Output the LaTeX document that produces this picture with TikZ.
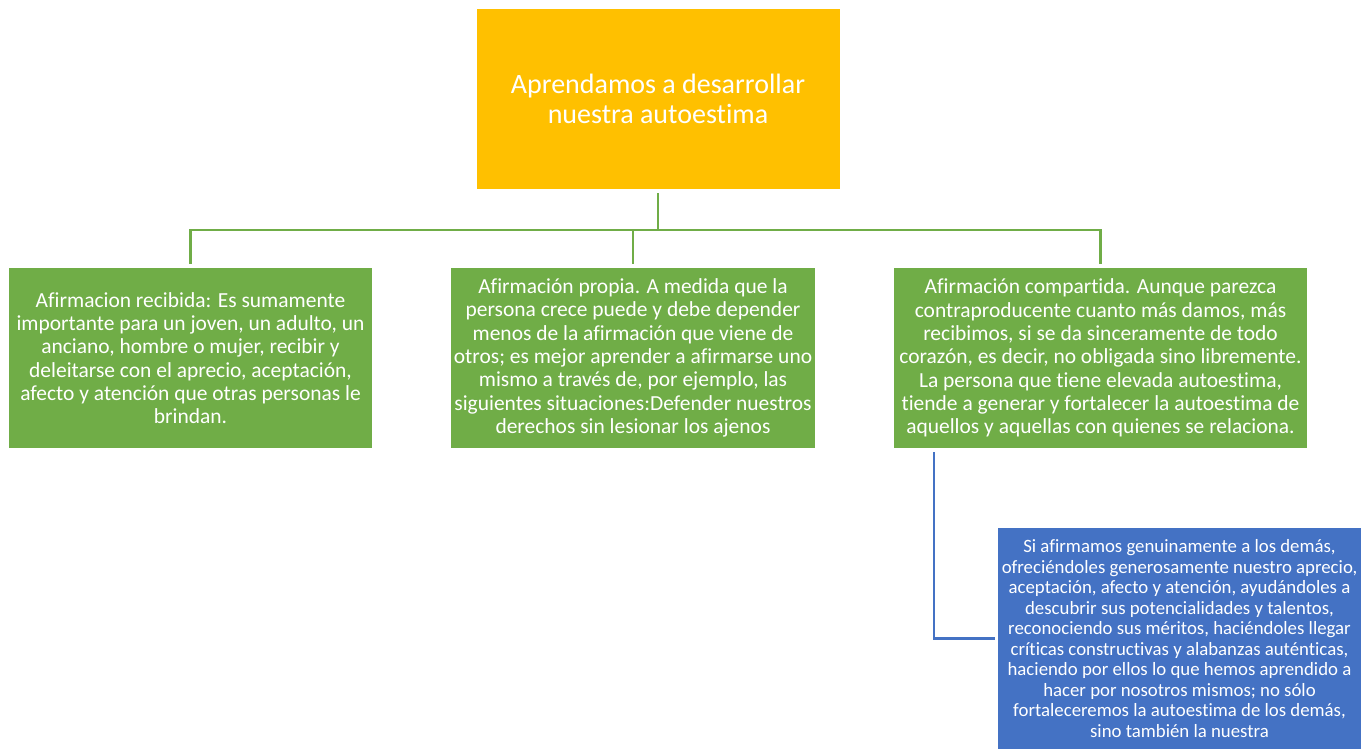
\documentclass[tikz,border=0pt]{standalone}
\usepackage{fontspec}
\setmainfont{Carlito}[Ligatures=CommonOff]
\usetikzlibrary{positioning}
\definecolor{ogold}{HTML}{FFC000}
\definecolor{ogreen}{HTML}{70AD47}
\definecolor{oblue}{HTML}{4472C4}
\tikzset{
  blk/.style={rectangle,text=white,align=center,inner sep=2pt,minimum width=272.25pt,minimum height=135pt},
  titleblk/.style={blk,fill=ogold,font=\fontsize{21}{22.5}\selectfont},
  grnblk/.style={blk,fill=ogreen,font=\fontsize{16.1}{17.5}\selectfont},
  blublk/.style={blk,fill=oblue,minimum height=165.75pt,font=\fontsize{14.1}{15.4}\selectfont},
  conn/.style={draw=ogreen,line width=1.8pt},
  bconn/.style={draw=oblue,line width=1.8pt}
}

\begin{document}
\begin{tikzpicture}[x=0.75pt,y=-0.75pt]
  \useasboundingbox[fill=white] (0,0) rectangle (1364,749);

  \node[titleblk] (title) at (658,99) {Aprendamos a desarrollar\\nuestra autoestima};

  \node[grnblk] (recib) at (190.5,358) {Afirmacion recibida: Es sumamente\\importante para un joven, un adulto, un\\anciano, hombre o mujer, recibir y\\deleitarse con el aprecio, aceptación,\\afecto y atención que otras personas le\\brindan.};
  \node[grnblk, minimum width=271.5pt] (propia) at (633,358) {Afirmación propia. A medida que la\\persona crece puede y debe depender\\menos de la afirmación que viene de\\otros; es mejor aprender a afirmarse uno\\mismo a través de, por ejemplo, las\\siguientes situaciones:Defender nuestros\\derechos sin lesionar los ajenos};
  \node[grnblk, minimum width=309.75pt] (compart) at (1100.5,358) {Afirmación compartida. Aunque parezca\\contraproducente cuanto más damos, más\\recibimos, si se da sinceramente de todo\\corazón, es decir, no obligada sino libremente.\\La persona que tiene elevada autoestima,\\tiende a generar y fortalecer la autoestima de\\aquellos y aquellas con quienes se relaciona.};

  \node[blublk] (demas) at (1179.5,638.5) {Si afirmamos genuinamente a los demás,\\ofreciéndoles generosamente nuestro aprecio,\\aceptación, afecto y atención, ayudándoles a\\descubrir sus potencialidades y talentos,\\reconociendo sus méritos, haciéndoles llegar\\críticas constructivas y alabanzas auténticas,\\haciendo por ellos lo que hemos aprendido a\\hacer por nosotros mismos; no sólo\\fortaleceremos la autoestima de los demás,\\sino también la nuestra};

  % green tree below the title
  \coordinate (bus) at (658,230);
  \coordinate (tap) at (934,448);
  \draw[conn,shorten <=3pt] (title.south) -- (bus);
  \draw[conn,shorten >=3pt] (bus) -| (recib.north);
  \draw[conn,shorten >=3pt] (bus) -| (propia.north);
  \draw[conn,shorten >=3pt] (bus) -| (compart.north);

  \draw[bconn,shorten <=3pt,shorten >=2pt] (tap) |- (demas.west);
\end{tikzpicture}
\end{document}
